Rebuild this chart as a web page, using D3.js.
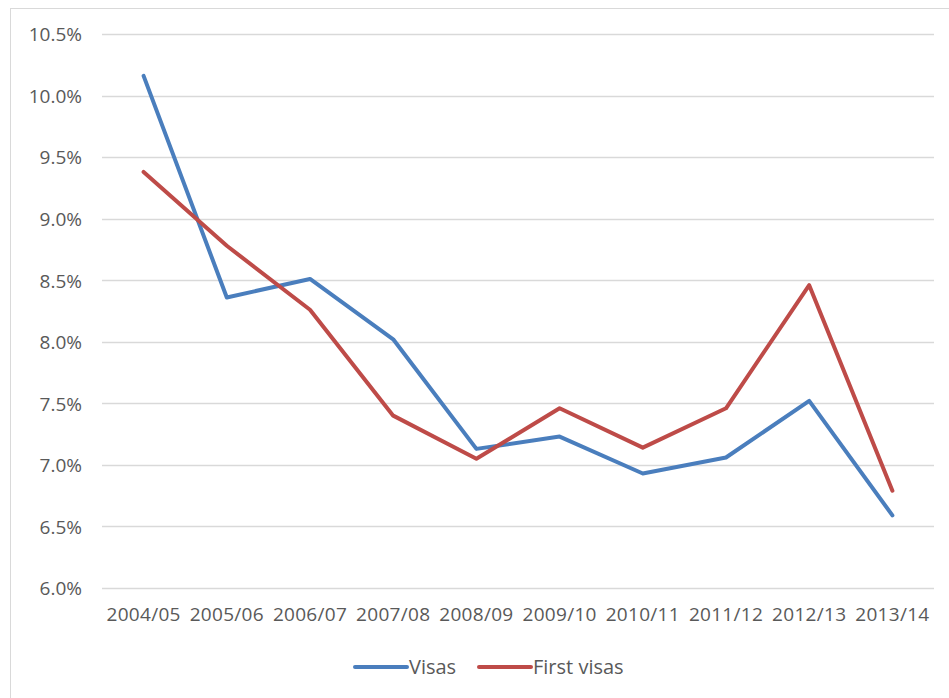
<!DOCTYPE html>
<html>
<head>
<meta charset="utf-8">
<script src="https://cdn.jsdelivr.net/npm/d3@7"></script>
<style>
  html, body { margin: 0; padding: 0; background: #fff; }
  svg { display: block; }
  text { font-family: "Open Sans", "Liberation Sans", sans-serif; fill: #595959; }
</style>
</head>
<body>
<svg id="chart" width="949" height="698"></svg>
<script>
// Financial years on the category axis
const years = ["2004/05", "2005/06", "2006/07", "2007/08", "2008/09",
               "2009/10", "2010/11", "2011/12", "2012/13", "2013/14"];
// Rates in percent
const visas      = [10.16, 8.36, 8.51, 8.02, 7.13, 7.23, 6.93, 7.06, 7.52, 6.59];
const firstVisas = [9.38, 8.78, 8.26, 7.40, 7.05, 7.46, 7.14, 7.46, 8.46, 6.79];
// Value axis ticks
const yTicks = [6.0, 6.5, 7.0, 7.5, 8.0, 8.5, 9.0, 9.5, 10.0, 10.5];

const seriesList = [
  { name: "Visas", values: visas, color: "#4a7ebd" },
  { name: "First visas", values: firstVisas, color: "#be4b48" }
];

const svg = d3.select("#chart");

// chart area frame
svg.append("rect")
  .attr("x", 10.5).attr("y", 8.5)
  .attr("width", 960).attr("height", 720)
  .attr("fill", "#fff")
  .attr("stroke", "#d9d9d9").attr("stroke-width", 1);

const plot = { left: 102, right: 934, top: 34, bottom: 588 };

const x = d3.scaleBand().domain(years).range([plot.left, plot.right]);
const y = d3.scaleLinear().domain([6.0, 10.5]).range([plot.bottom, plot.top]);

// gridlines
svg.append("g")
  .selectAll("line")
  .data(yTicks)
  .join("line")
  .attr("x1", plot.left).attr("x2", plot.right)
  .attr("y1", d => Math.round(y(d)) + 0.5)
  .attr("y2", d => Math.round(y(d)) + 0.5)
  .attr("stroke", "#d9d9d9").attr("stroke-width", 1.5);

// value axis labels
const yAxis = d3.axisLeft(y)
  .tickValues(yTicks)
  .tickFormat(d => d3.format(".1f")(d) + "%")
  .tickSize(0)
  .tickPadding(20);

const gy = svg.append("g")
  .attr("transform", `translate(${plot.left},0)`)
  .call(yAxis);
gy.select(".domain").remove();
gy.selectAll("text")
  .attr("font-size", 19)
  .attr("dy", "0.36em")
  .style("font-family", "'Open Sans', sans-serif")
  .attr("fill", "#555555");

// category axis labels
const xAxis = d3.axisBottom(x).tickSize(0).tickPadding(20);
const gx = svg.append("g")
  .attr("transform", `translate(0,${plot.bottom})`)
  .call(xAxis);
gx.select(".domain").remove();
gx.selectAll("text")
  .attr("font-size", 19)
  .attr("letter-spacing", "0.3px")
  .style("font-family", "'Open Sans', sans-serif")
  .attr("fill", "#555555");

// series lines
const line = d3.line()
  .x((d, i) => x(years[i]) + x.bandwidth() / 2)
  .y(d => y(d));

svg.append("g")
  .selectAll("path")
  .data(seriesList)
  .join("path")
  .attr("d", s => line(s.values))
  .attr("fill", "none")
  .attr("stroke", s => s.color)
  .attr("stroke-width", 4)
  .attr("stroke-linejoin", "round")
  .attr("stroke-linecap", "round");

// legend
const legendItems = [
  { name: "Visas", color: "#4a7ebd", x: 355 },
  { name: "First visas", color: "#be4b48", x: 479 }
];
const lg = svg.append("g").attr("transform", "translate(0,667)");
const li = lg.selectAll("g").data(legendItems).join("g")
  .attr("transform", d => `translate(${d.x},0)`);
li.append("line")
  .attr("x1", 0).attr("x2", 52)
  .attr("y1", 0).attr("y2", 0)
  .attr("stroke", d => d.color)
  .attr("stroke-width", 4)
  .attr("stroke-linecap", "round");
li.append("text")
  .attr("x", 54).attr("y", 0)
  .attr("dy", "0.36em")
  .attr("font-size", 20)
  .attr("fill", "#555555")
  .text(d => d.name);
</script>
</body>
</html>
